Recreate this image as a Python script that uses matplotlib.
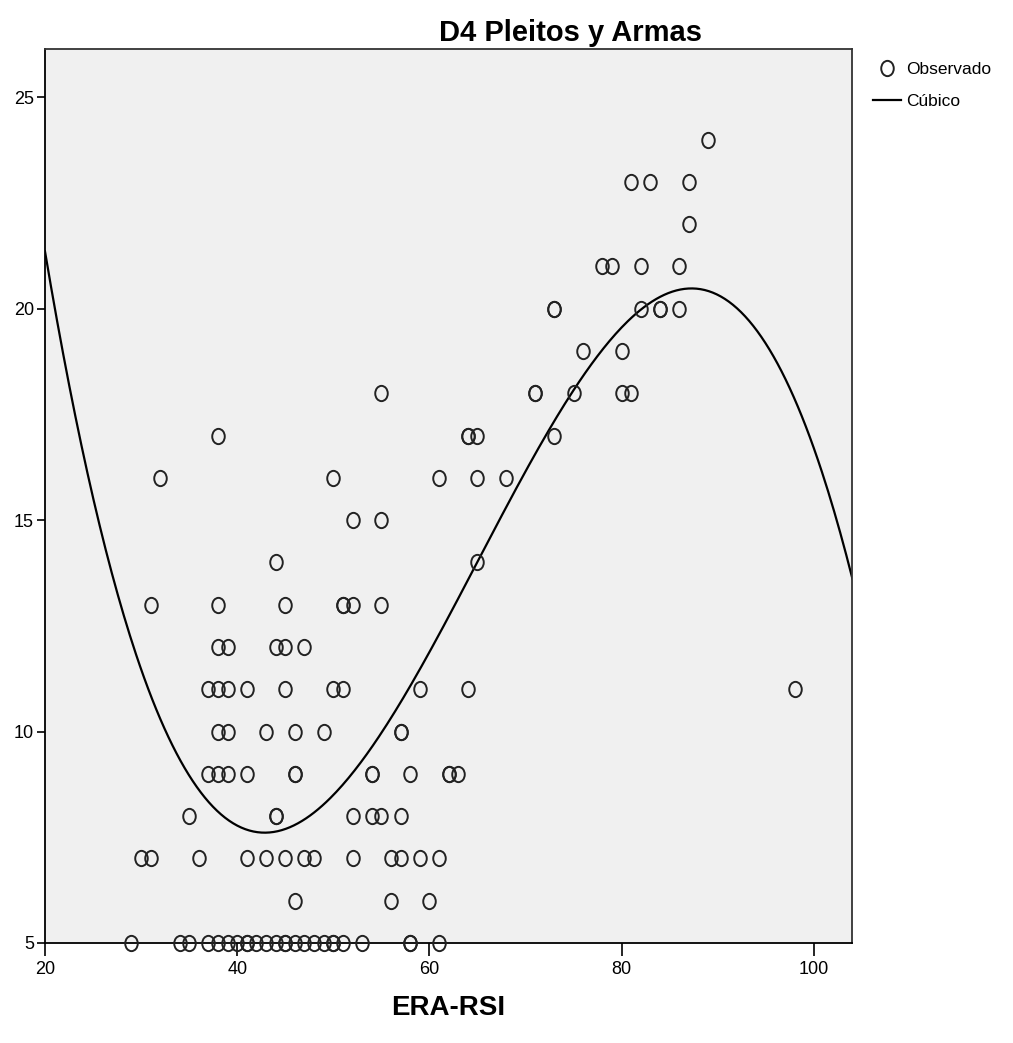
import numpy as np
import matplotlib.pyplot as plt
from matplotlib.path import Path

plt.rcParams['font.family'] = ['Liberation Sans Narrow', 'Liberation Sans', 'DejaVu Sans']

# Datos observados (ERA-RSI, D4 Pleitos y Armas)
x_obs = [89,
         81, 83, 87,
         87,
         78, 79, 82, 86,
         73, 73, 82, 84, 84, 86,
         76, 80,
         55, 71, 71, 75, 80, 81,
         38, 64, 64, 65, 73,
         32, 50, 61, 65, 68,
         52, 55,
         44, 65,
         31, 38, 45, 51, 51, 52, 55,
         38, 39, 44, 45, 47,
         37, 38, 39, 41, 45, 50, 51, 59, 64, 98,
         38, 39, 43, 46, 49, 57, 57,
         37, 38, 39, 41, 46, 46, 54, 54, 58, 62, 62, 63,
         35, 44, 44, 52, 54, 55, 57,
         30, 31, 36, 41, 43, 45, 47, 48, 52, 56, 57, 59, 61,
         46, 56, 60,
         29, 34, 35, 37, 38, 39, 40, 41, 41, 42, 43, 44, 45, 45, 46, 47,
         48, 49, 50, 50, 51, 53, 58, 58, 61]
y_obs = [24,
         23, 23, 23,
         22,
         21, 21, 21, 21,
         20, 20, 20, 20, 20, 20,
         19, 19,
         18, 18, 18, 18, 18, 18,
         17, 17, 17, 17, 17,
         16, 16, 16, 16, 16,
         15, 15,
         14, 14,
         13, 13, 13, 13, 13, 13, 13,
         12, 12, 12, 12, 12,
         11, 11, 11, 11, 11, 11, 11, 11, 11, 11,
         10, 10, 10, 10, 10, 10, 10,
         9, 9, 9, 9, 9, 9, 9, 9, 9, 9, 9, 9,
         8, 8, 8, 8, 8, 8, 8,
         7, 7, 7, 7, 7, 7, 7, 7, 7, 7, 7, 7, 7,
         6, 6, 6,
         5, 5, 5, 5, 5, 5, 5, 5, 5, 5, 5, 5, 5, 5, 5, 5,
         5, 5, 5, 5, 5, 5, 5, 5, 5]

x_ticks = [20, 40, 60, 80, 100]
y_ticks = [5, 10, 15, 20, 25]

# Ajuste cúbico
coef = np.polyfit(x_obs, y_obs, 3)
xs = np.linspace(20, 104, 400)
ys = np.polyval(coef, xs)

# marcador ovalado (como en SPSS)
circ = Path.unit_circle()
oval = Path(circ.vertices * [0.82, 1.0], circ.codes)

fig = plt.figure(figsize=(10.13, 10.43), dpi=100)
ax = fig.add_axes([0.0444, 0.0959, 0.797, 0.857])
ax.set_facecolor('#f0f0f0')

ax.plot(x_obs, y_obs, ls='none', marker=oval, ms=11, mfc='none', mec='#222222',
        mew=1.4, label='Observado', clip_on=False, zorder=3)
ax.plot(xs, ys, color='black', lw=1.6, label='Cúbico', zorder=2)

ax.set_xlim(20, 104)
ax.set_ylim(5, 26.14)
ax.set_xticks(x_ticks)
ax.set_yticks(y_ticks)
ax.tick_params(axis='x', length=9, width=1.2, labelsize=13, pad=4)
ax.tick_params(axis='y', length=6, width=1.2, labelsize=13, pad=2)
for s in ax.spines.values():
    s.set_linewidth(1.3)
    s.set_color('#333333')
ax.spines['left'].set_color('black')
ax.spines['bottom'].set_color('black')

ax.set_xlabel('ERA-RSI', fontsize=20, fontweight='bold', labelpad=12)
fig.text(0.563, 0.968, 'D4 Pleitos y Armas', ha='center', va='center',
         fontsize=21, fontweight='bold')

fig.legend(loc='upper left', bbox_to_anchor=(0.855, 0.947), frameon=False,
           fontsize=12.5, handlelength=1.6, handletextpad=0.3,
           labelspacing=0.95, borderaxespad=0)

fig.savefig('out.png', dpi=100)
